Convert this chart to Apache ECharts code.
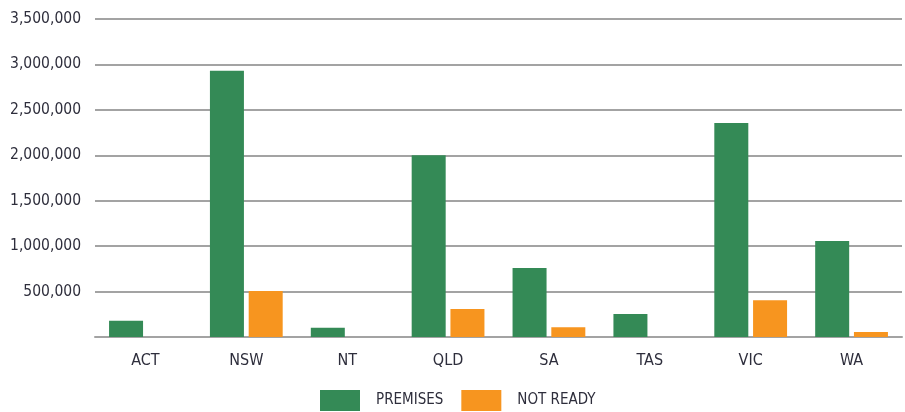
<!DOCTYPE html>
<html>
<head>
<meta charset="utf-8">
<script src="https://cdn.jsdelivr.net/npm/echarts@6/dist/echarts.min.js"></script>
<style>
  html, body { margin: 0; padding: 0; background: #fff; }
  #chart { width: 905px; height: 412px; }
</style>
</head>
<body>
<div id="chart"></div>
<script>
const states = ['ACT', 'NSW', 'NT', 'QLD', 'SA', 'TAS', 'VIC', 'WA'];
const premises = [180000, 2930000, 103000, 2000000, 760000, 253000, 2355000, 1057000];
const notReady = [0, 506000, 0, 308000, 107000, 0, 404000, 55000];
const yTicks = { min: 0, max: 3500000, interval: 500000 };

const font = "'DejaVu Sans Condensed', 'Liberation Sans Narrow', sans-serif";
const gridGray = '#a3a3a3';
const textColor = '#2e2e3c';

var myChart = echarts.init(document.getElementById('chart'));
var option = {
  animation: false,
  textStyle: { fontFamily: font },
  legend: {
    top: 385,
    left: 315,
    icon: 'rect',
    itemWidth: 40,
    itemHeight: 21,
    itemGap: 18,
    textStyle: { fontFamily: font, fontSize: 15, color: textColor, padding: [0, 0, 0, 11] },
    data: ['PREMISES', 'NOT READY']
  },
  grid: { left: 95, right: 3, top: 19, bottom: 75 },
  xAxis: {
    type: 'category',
    data: states,
    axisTick: { show: false },
    axisLine: { lineStyle: { color: gridGray, width: 2 } },
    axisLabel: { fontFamily: font, fontSize: 16, color: textColor, margin: 16 }
  },
  yAxis: {
    type: 'value',
    min: yTicks.min,
    max: yTicks.max,
    interval: yTicks.interval,
    axisLine: { show: false },
    axisTick: { show: false },
    splitLine: { lineStyle: { color: gridGray, width: 2 } },
    axisLabel: {
      fontFamily: font, fontSize: 15.5, color: textColor, margin: 14,
      formatter: function (v) { return v === 0 ? '' : v.toLocaleString('en-US'); }
    }
  },
  series: [
    {
      name: 'PREMISES', type: 'bar', data: premises,
      barWidth: 34, barGap: '14%',
      itemStyle: { color: '#348a56' }
    },
    {
      name: 'NOT READY', type: 'bar', data: notReady,
      barWidth: 34,
      itemStyle: { color: '#f7951f' }
    }
  ]
};
option && myChart.setOption(option);
</script>
</body>
</html>
